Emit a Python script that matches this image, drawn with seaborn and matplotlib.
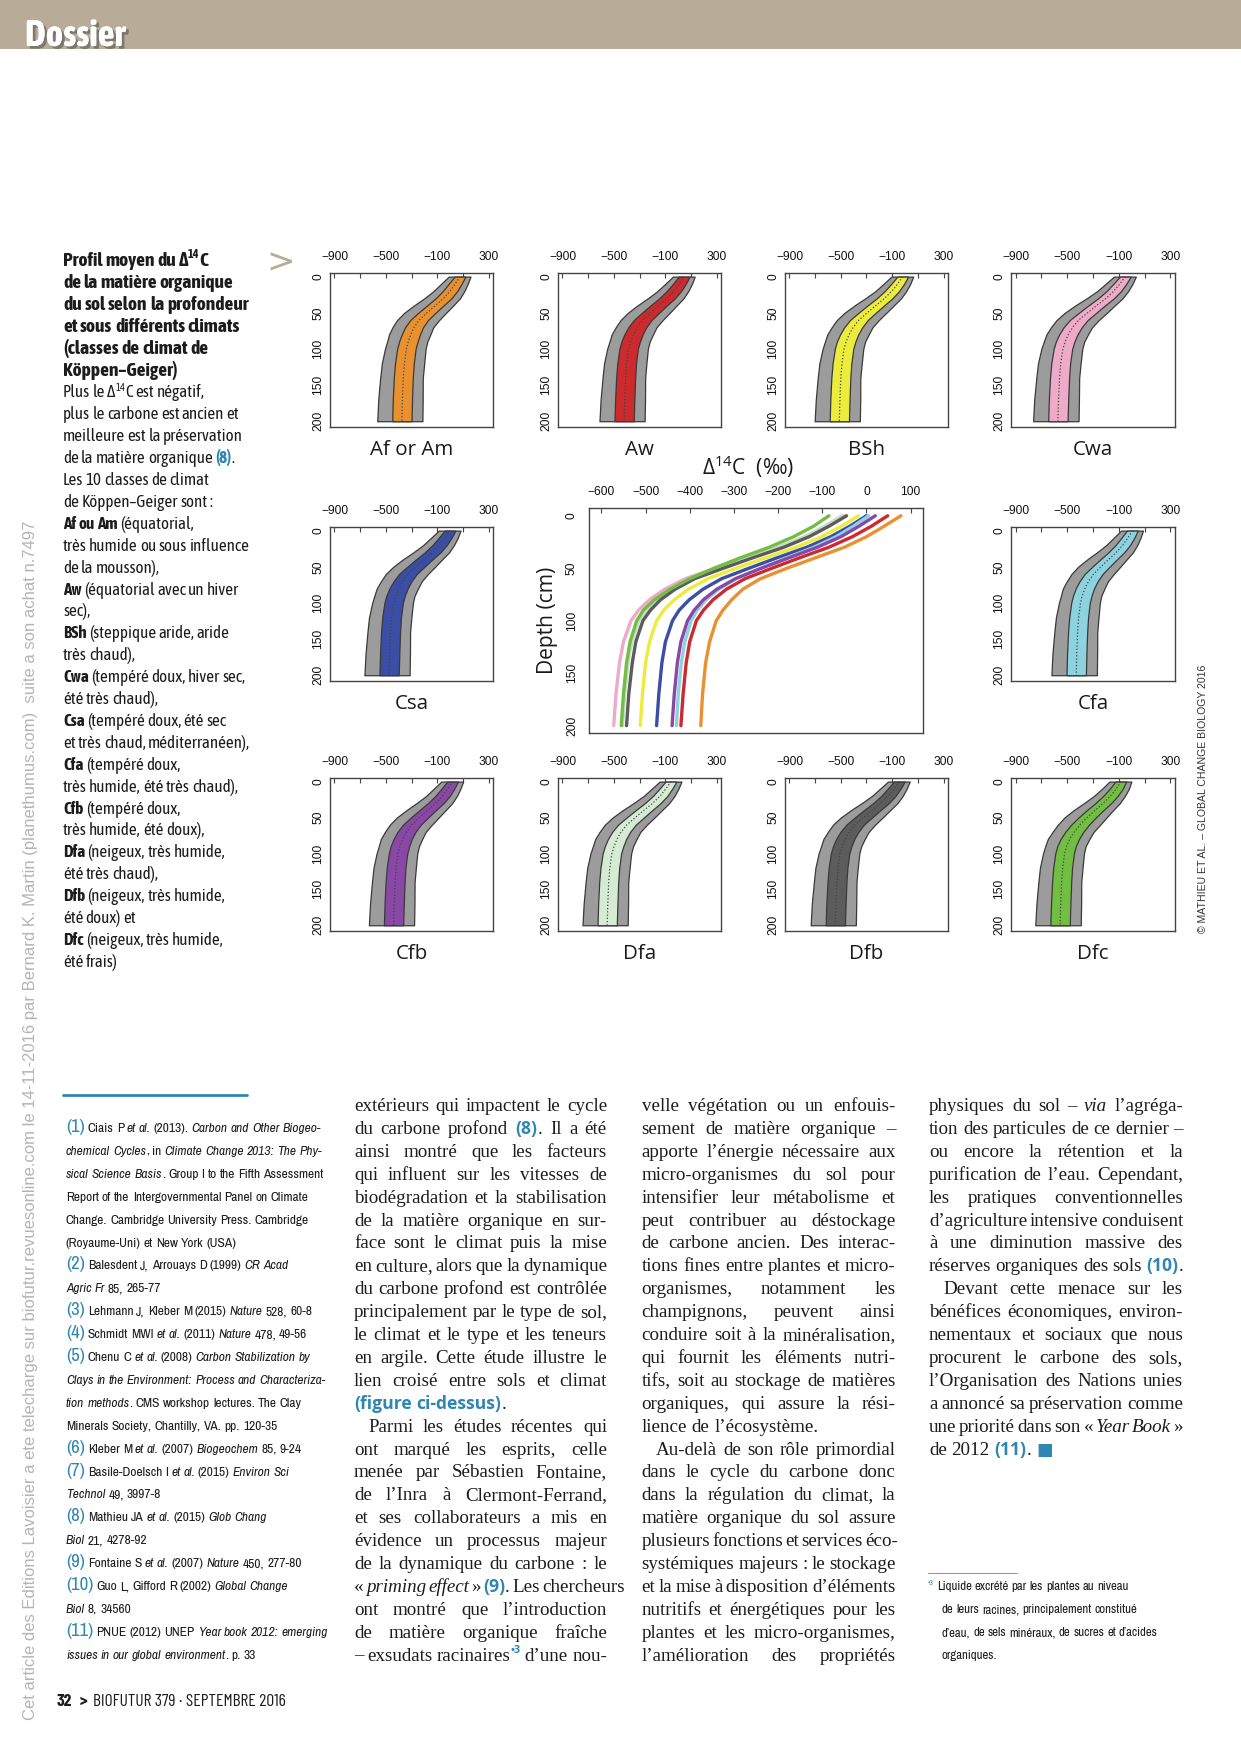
import matplotlib
matplotlib.use("Agg")
import matplotlib.pyplot as plt
import matplotlib.patheffects as pe
from matplotlib.transforms import IdentityTransform
import seaborn as sns
import pandas as pd
import numpy as np

W, H = 1241, 1751

# ---------------- data ----------------
CLIMATES = ["Af or Am", "Aw", "BSh", "Cwa", "Csa", "Cfa", "Cfb", "Dfa", "Dfb", "Dfc"]
DEPTH = [0, 10, 20, 30, 40, 50, 60, 70, 80, 90, 100, 120, 140, 170, 200]
MEAN = {
    "Af or Am": [78, 40, 0, -50, -115, -180, -240, -280, -305, -325, -340, -355, -364, -371, -375],
    "Aw": [48, 11, -32, -85, -151, -214, -275, -317, -347, -369, -385, -400, -408, -415, -420],
    "BSh": [-18, -57, -102, -159, -228, -295, -359, -403, -435, -459, -475, -491, -500, -507, -512],
    "Cwa": [-50, -92, -139, -199, -272, -342, -410, -457, -491, -516, -533, -550, -559, -567, -572],
    "Csa": [0, -38, -81, -135, -202, -266, -328, -370, -401, -424, -439, -455, -463, -470, -475],
    "Cfa": [5, -30, -69, -119, -180, -239, -295, -334, -363, -383, -397, -411, -419, -426, -430],
    "Cfb": [20, -17, -58, -111, -175, -238, -297, -339, -369, -390, -405, -420, -428, -435, -440],
    "Dfa": [-55, -95, -139, -197, -266, -333, -398, -443, -475, -498, -515, -531, -540, -547, -552],
    "Dfb": [-45, -85, -130, -187, -257, -324, -389, -433, -466, -489, -506, -522, -530, -538, -543],
    "Dfc": [-85, -120, -165, -220, -285, -345, -400, -445, -480, -505, -520, -535, -543, -550, -555],
}
# half widths of the coloured band and of the grey band (left / right of the mean)
IN_HW = [42, 50, 56, 61, 64, 67, 69, 70, 71, 72, 72, 73, 74, 75, 75]
OUT_L = [88, 110, 128, 150, 166, 176, 172, 168, 170, 165, 167, 176, 180, 188, 192]
OUT_R = [82, 98, 112, 128, 140, 150, 156, 150, 152, 148, 150, 154, 152, 158, 160]

COLORS = {
    "Af or Am": "#e8912e", "Aw": "#cc2a2c", "BSh": "#ecec3c", "Cwa": "#eeaac6",
    "Csa": "#3a4ea6", "Cfa": "#8cd2df", "Cfb": "#8a48a6", "Dfa": "#d6ebd4",
    "Dfb": "#5c5c5c", "Dfc": "#72be42",
}
BIG_COLORS = dict(COLORS, Dfa="#c9dcc6")

SMALL_XTICKS = [-900, -700, -500, -300, -100, 100, 300]
SMALL_XLABELS = ["−900", "", "−500", "", "−100", "", "300"]
BIG_XTICKS = [-600, -500, -400, -300, -200, -100, 0, 100]
YTICKS = [0, 50, 100, 150, 200]

# panel boxes in page pixels: left, top, right, bottom
PANELS = {
    "Af or Am": (330, 273, 493, 427), "Aw": (558, 273, 721, 427),
    "BSh": (785, 273, 948, 427), "Cwa": (1011, 273, 1175, 427),
    "Csa": (330, 527, 493, 681), "Cfa": (1011, 527, 1175, 681),
    "Cfb": (330, 778, 493, 931), "Dfa": (558, 778, 721, 931),
    "Dfb": (785, 778, 948, 931), "Dfc": (1011, 778, 1175, 931),
}
BIG = (589, 508, 923, 733)

CAPTION_BOLD = [
    "Profil moyen du Δ<14>C", "de la matière organique", "du sol selon la profondeur",
    "et sous différents climats", "(classes de climat de", "Köppen–Geiger)",
]
CAPTION = [
    "Plus le Δ<14>C est négatif,", "plus le carbone est ancien et",
    "meilleure est la préservation", "de la matière organique [(8)].",
    "Les 10 classes de climat", "de Köppen–Geiger sont :",
    "*Af ou Am* (équatorial,", "très humide ou sous influence", "de la mousson),",
    "*Aw* (équatorial avec un hiver", "sec),",
    "*BSh* (steppique aride, aride", "très chaud),",
    "*Cwa* (tempéré doux, hiver sec,", "été très chaud),",
    "*Csa* (tempéré doux, été sec", "et très chaud, méditerranéen),",
    "*Cfa* (tempéré doux,", "très humide, été très chaud),",
    "*Cfb* (tempéré doux,", "très humide, été doux),",
    "*Dfa* (neigeux, très humide,", "été très chaud),",
    "*Dfb* (neigeux, très humide,", "été doux) et",
    "*Dfc* (neigeux, très humide,", "été frais)",
]

REFS = [
    "[(1)] Ciais P _et al._ (2013). _Carbon and Other Biogeo-_",
    "_chemical Cycles_, in _Climate Change 2013: The Phy-_",
    "_sical Science Basis_. Group I to the Fifth Assessment",
    "Report of the Intergovernmental Panel on Climate",
    "Change. Cambridge University Press. Cambridge",
    "(Royaume-Uni) et New York (USA)",
    "[(2)] Balesdent J, Arrouays D (1999) _CR Acad_",
    "_Agric Fr_ 85, 265-77",
    "[(3)] Lehmann J, Kleber M (2015) _Nature_ 528, 60-8",
    "[(4)] Schmidt MWI _et al._ (2011) _Nature_ 478, 49-56",
    "[(5)] Chenu C _et al._ (2008) _Carbon Stabilization by_",
    "_Clays in the Environment: Process and Characteriza-_",
    "_tion methods_. CMS workshop lectures. The Clay",
    "Minerals Society, Chantilly, VA. pp. 120-35",
    "[(6)] Kleber M _et al._ (2007) _Biogeochem_ 85, 9-24",
    "[(7)] Basile-Doelsch I _et al._ (2015) _Environ Sci_",
    "_Technol_ 49, 3997-8",
    "[(8)] Mathieu JA _et al._ (2015) _Glob Chang_",
    "_Biol_ 21, 4278-92",
    "[(9)] Fontaine S _et al._ (2007) _Nature_ 450, 277-80",
    "[(10)] Guo L, Gifford R (2002) _Global Change_",
    "_Biol_ 8, 34560",
    "[(11)] PNUE (2012) UNEP _Year book 2012: emerging_",
    "_issues in our global environment_. p. 33",
]

COL2 = [
    "extérieurs qui impactent le cycle", "du carbone profond [(8)]. Il a été",
    "ainsi montré que les facteurs", "qui influent sur les vitesses de",
    "biodégradation et la stabilisation", "de la matière organique en sur-",
    "face sont le climat puis la mise", "en culture, alors que la dynamique",
    "du carbone profond est contrôlée", "principalement par le type de sol,",
    "le climat et le type et les teneurs", "en argile. Cette étude illustre le",
    "lien croisé entre sols et climat", "[(figure ci-dessus)].¶",
    "\tParmi les études récentes qui", "ont marqué les esprits, celle",
    "menée par Sébastien Fontaine,", "de l’Inra à Clermont-Ferrand,",
    "et ses collaborateurs a mis en", "évidence un processus majeur",
    "de la dynamique du carbone : le", "« _priming effect_ » [(9)]. Les chercheurs",
    "ont montré que l’introduction", "de matière organique fraîche",
    "– exsudats racinaires[<•3>] d’une nou-",
]
COL3 = [
    "velle végétation ou un enfouis-", "sement de matière organique –",
    "apporte l’énergie nécessaire aux", "micro-organismes du sol pour",
    "intensifier leur métabolisme et", "peut contribuer au déstockage",
    "de carbone ancien. Des interac-", "tions fines entre plantes et micro-",
    "organismes, notamment les", "champignons, peuvent ainsi",
    "conduire soit à la minéralisation,", "qui fournit les éléments nutri-",
    "tifs, soit au stockage de matières", "organiques, qui assure la rési-",
    "lience de l’écosystème.¶", "\tAu-delà de son rôle primordial",
    "dans le cycle du carbone donc", "dans la régulation du climat, la",
    "matière organique du sol assure", "plusieurs fonctions et services éco-",
    "systémiques majeurs : le stockage", "et la mise à disposition d’éléments",
    "nutritifs et énergétiques pour les", "plantes et les micro-organismes,",
    "l’amélioration des propriétés",
]
COL4 = [
    "physiques du sol – _via_ l’agréga-", "tion des particules de ce dernier –",
    "ou encore la rétention et la", "purification de l’eau. Cependant,",
    "les pratiques conventionnelles", "d’agriculture intensive conduisent",
    "à une diminution massive des", "réserves organiques des sols [(10)].",
    "\tDevant cette menace sur les", "bénéfices économiques, environ-",
    "nementaux et sociaux que nous", "procurent le carbone des sols,",
    "l’Organisation des Nations unies", "a annoncé sa préservation comme",
    "une priorité dans son « _Year Book_ »", "de 2012 [(11)]. [■]¶",
]
FOOTNOTE = [
    "[<•3>] Liquide excrété par les plantes au niveau",
    "de leurs racines, principalement constitué",
    "d’eau, de sels minéraux, de sucres et d’acides",
    "organiques.",
]
LEFT_NOTE = ("Cet article des Editions Lavoisier a ete telecharge sur biofutur.revuesonline.com "
             "le 14-11-2016 par Bernard K. Martin (planethumus.com)  suite a son achat n.7497")
RIGHT_NOTE = "© MATHIEU ET AL. – GLOBAL CHANGE BIOLOGY 2016"

# ---------------- style ----------------
sns.set_style("white")
CAP_FONT = "Asap Condensed"
REF_FONT = "Archivo Narrow"
FOOT_FONT = "Barlow Condensed"
SERIF = "Liberation Serif"
SANS = "Open Sans"
plt.rcParams["font.family"] = ["Liberation Sans", "DejaVu Sans"]
plt.rcParams["mathtext.fontset"] = "custom"
plt.rcParams["mathtext.rm"] = "Open Sans"
BLUE = "#2f86b2"
INK = "#1c1c1c"
TAN = "#b8ac98"
PT = 0.72  # px -> pt at 100 dpi

fig = plt.figure(figsize=(W / 100, H / 100), dpi=100)
fig.patch.set_facecolor("white")
rend = fig.canvas.get_renderer()


def ptext(x, y, s, **kw):
    return fig.text(x, H - y, s, transform=IdentityTransform(), **kw)


def box(b):
    l, t, r, bt = b
    return fig.add_axes([l / W, 1 - bt / H, (r - l) / W, (bt - t) / H])


def parse(line):
    words, cur, buf = [], [], ""
    bold = ital = blue = sup = False
    for ch in line:
        if ch in " []_<>*":
            if buf:
                cur.append((buf, bold, ital, blue, sup))
                buf = ""
            if ch == " ":
                if cur:
                    words.append(cur)
                    cur = []
            elif ch == "[":
                blue = True
            elif ch == "]":
                blue = False
            elif ch == "_":
                ital = not ital
            elif ch == "<":
                sup = True
            elif ch == ">":
                sup = False
            elif ch == "*":
                bold = not bold
        else:
            buf += ch
    if buf:
        cur.append((buf, bold, ital, blue, sup))
    if cur:
        words.append(cur)
    return words


def text_block(lines, x, y, lh, size, family, width=None, blue_family=None,
               blue_scale=1.0, indent=14, color=INK, bold_all=False, first_x=None):
    blue_family = blue_family or family
    sp_t = ptext(0, 0, "n n", fontsize=size * PT, family=family)
    nn_t = ptext(0, 0, "nn", fontsize=size * PT, family=family)
    space = sp_t.get_window_extent(rend).width - nn_t.get_window_extent(rend).width
    sp_t.remove()
    nn_t.remove()
    for i, line in enumerate(lines):
        end = line.endswith("¶")
        line = line.rstrip("¶")
        ind = line.startswith("\t")
        line = line.lstrip("\t")
        items = []
        for wd in parse(line):
            segs = []
            for s, b, it, bl, su in wd:
                fs = size * (blue_scale if bl else 1) * (0.62 if su else 1)
                t = ptext(0, 0, s, fontsize=fs * PT,
                          family=[blue_family if bl else family, "DejaVu Sans"],
                          weight="bold" if (b or bl or bold_all) else "normal",
                          style="italic" if it else "normal",
                          color=BLUE if bl else color, ha="left", va="baseline")
                segs.append((t, t.get_window_extent(rend).width, size * 0.4 if su else 0))
            items.append(segs)
        widths = [sum(w for _, w, _ in s) for s in items]
        x0 = x + (indent if ind else 0)
        if i == 0 and first_x is not None:
            x0 = first_x
        gap = space
        if width is not None and not end and len(items) > 1:
            gap = max((x + width - x0 - sum(widths)) / (len(items) - 1), 0.12 * size)
        cx = x0
        yb = H - (y + i * lh)
        for segs in items:
            for t, w, dy in segs:
                t.set_position((cx, yb + dy))
                cx += w
            cx += gap


def style_axes(ax):
    for s in ax.spines.values():
        s.set_color("#444444")
        s.set_linewidth(1.0)
    ax.set_xlabel("")
    ax.set_ylabel("")


# ---------------- header ----------------
hdr = fig.add_axes([0, 1 - 49 / H, 1, 49 / H])
hdr.set_facecolor(TAN)
hdr.set_xticks([])
hdr.set_yticks([])
for s in hdr.spines.values():
    s.set_visible(False)
ptext(25, 46, "Dossier", fontsize=37 * PT, family=[CAP_FONT, "DejaVu Sans"], weight="bold",
      color="white", ha="left", va="baseline",
      path_effects=[pe.withSimplePatchShadow(offset=(2, -2), shadow_rgbFace="#555555", alpha=0.6),
                    pe.Normal()])

# ---------------- small panels ----------------
for clim in CLIMATES:
    ax = box(PANELS[clim])
    m = np.array(MEAN[clim])
    d = np.array(DEPTH)
    ax.fill_betweenx(d, m - np.array(OUT_L), m + np.array(OUT_R), facecolor="#9c9c9c",
                     edgecolor="#3a3a3a", lw=0.9, zorder=1)
    ax.fill_betweenx(d, m - np.array(IN_HW), m + np.array(IN_HW), facecolor=COLORS[clim],
                     edgecolor="#3a3a3a", lw=0.9, zorder=2)
    sns.lineplot(x=m, y=d, orient="y", sort=False, estimator=None, ax=ax, color="#444444",
                 lw=0.9, linestyle=(0, (1, 1.6)), zorder=3)
    ax.set_xlim(-935, 335)
    ax.set_ylim(208, -5)
    ax.xaxis.tick_top()
    ax.set_xticks(SMALL_XTICKS)
    ax.set_xticklabels(SMALL_XLABELS)
    ax.set_yticks(YTICKS)
    ax.set_yticklabels([str(v) for v in YTICKS], rotation=90, va="center")
    ax.tick_params(direction="in", length=3.5, width=0.8, color="#444444", labelsize=12 * PT,
                   labelcolor="#111111")
    ax.tick_params(axis="x", pad=7)
    ax.tick_params(axis="y", pad=4)
    style_axes(ax)
    ax.text(0.5, -0.15, clim, transform=ax.transAxes, ha="center", va="center",
            fontsize=20.5 * PT, family=[SANS, "DejaVu Sans"], color="#1a1a1a")

# ---------------- big panel ----------------
rows = []
for clim in CLIMATES:
    for dep, val in zip(DEPTH, MEAN[clim]):
        rows.append({"climate": clim, "depth": dep, "d14c": val})
df = pd.DataFrame(rows)
axb = box(BIG)
sns.lineplot(data=df, x="d14c", y="depth", hue="climate", hue_order=CLIMATES,
             palette=BIG_COLORS, orient="y", sort=False, estimator=None, lw=2.4,
             legend=False, ax=axb)
axb.set_xlim(-628, 128)
axb.set_ylim(207, -7.4)
axb.xaxis.tick_top()
axb.set_xticks(BIG_XTICKS)
axb.set_xticklabels([str(v).replace("-", "−") for v in BIG_XTICKS])
axb.set_yticks(YTICKS)
axb.set_yticklabels([str(v) for v in YTICKS], rotation=90, va="center")
axb.tick_params(direction="in", length=3.5, width=0.8, color="#444444", labelsize=12 * PT,
                labelcolor="#111111")
axb.tick_params(axis="x", pad=7)
axb.tick_params(axis="y", pad=8)
style_axes(axb)
ptext(748, 467, r"$\mathregular{\Delta^{14}}$C  (‰)", fontsize=21 * PT,
      family=[SANS, "DejaVu Sans"], ha="center", va="center", color="#1a1a1a")
ptext(547, 620, "Depth (cm)", fontsize=21 * PT, family=[SANS, "DejaVu Sans"], rotation=90,
      ha="center", va="center", color="#1a1a1a")

# ---------------- caption ----------------
ptext(281, 263, ">", fontsize=34 * PT, family=["DejaVu Sans"], color=TAN, ha="center",
      va="center")
text_block(CAPTION_BOLD, 63, 266, 21.9, 19.5, CAP_FONT, bold_all=True)
text_block(CAPTION, 63, 266 + 6 * 21.9, 21.9, 17, CAP_FONT)

ptext(1203, 933, RIGHT_NOTE, fontsize=10.5 * PT, family=["Liberation Sans", "DejaVu Sans"],
      rotation=90, rotation_mode="anchor", ha="left", va="center", color="#333333")
ptext(30, 1720, LEFT_NOTE, fontsize=16.6 * PT, family=["Liberation Sans", "DejaVu Sans"],
      rotation=90, rotation_mode="anchor", ha="left", va="center", color="#b4b4b4")

# ---------------- references ----------------
fig.add_artist(plt.Line2D([63 / W, 247 / W], [1 - 1095 / H, 1 - 1095 / H], color=BLUE, lw=2))
text_block(REFS, 66, 1132, 22.9, 13.4, REF_FONT, blue_scale=1.4)

# ---------------- body columns ----------------
text_block(COL2, 354, 1111, 22.9, 19, SERIF, width=253, blue_family=SANS, blue_scale=0.92)
text_block(COL3, 641.5, 1111, 22.9, 19, SERIF, width=254, blue_family=SANS, blue_scale=0.92)
text_block(COL4, 929, 1111, 22.9, 19, SERIF, width=254, blue_family=SANS, blue_scale=0.92)

fig.add_artist(plt.Line2D([928 / W, 1017 / W], [1 - 1573 / H, 1 - 1573 / H], color="#999999",
                          lw=0.8))
text_block(FOOTNOTE, 942, 1590, 23.1, 12.8, REF_FONT, first_x=928)

# ---------------- footer ----------------
ptext(57, 1706, "32", fontsize=17.5 * PT, family=[FOOT_FONT, "DejaVu Sans"], weight="bold",
      color=INK, ha="left", va="baseline")
ptext(80, 1706, ">", fontsize=17.5 * PT, family=[FOOT_FONT, "DejaVu Sans"], weight="bold",
      color=INK, ha="left", va="baseline")
ptext(93, 1706, "BIOFUTUR 379 · SEPTEMBRE 2016", fontsize=17.5 * PT,
      family=[FOOT_FONT, "DejaVu Sans"], color=INK, ha="left", va="baseline")

fig.savefig("out.png", dpi=100, facecolor="white")
